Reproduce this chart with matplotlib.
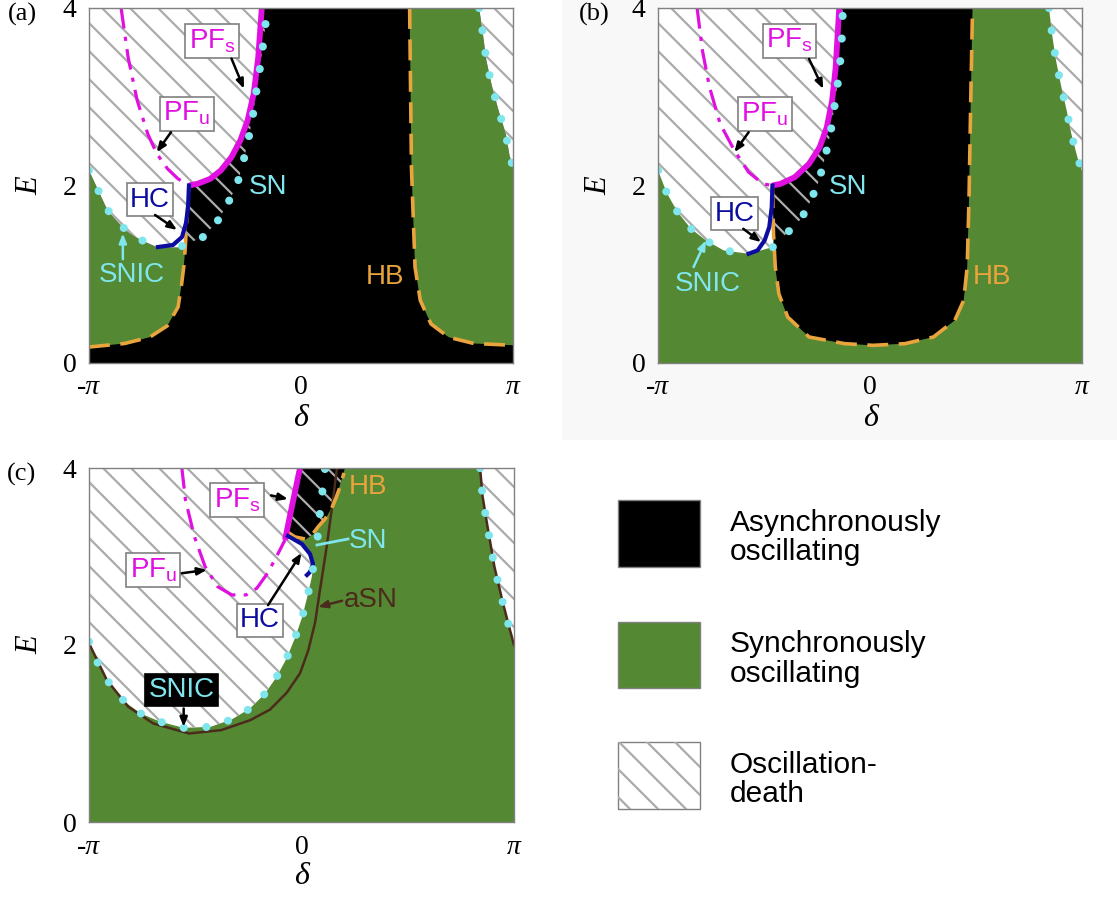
import numpy as np
import matplotlib
matplotlib.use("Agg")
import matplotlib.pyplot as plt
from matplotlib.patches import Polygon, Rectangle

PI = np.pi

# ---------------- panel (a) ----------------
a_hb_left_d = [-PI, -2.614, -2.244, -1.98, -1.822, -1.769, -1.735, -1.715, -1.69, -1.66]
a_hb_left_e = [0.18, 0.22, 0.29, 0.42, 0.63, 0.89, 1.1, 1.3, 1.65, 2.0]
a_hb_right_d = [1.61, 1.637, 1.69, 1.768, 1.927, 2.19, 2.56, PI]
a_hb_right_e = [4.0, 2.2, 1.08, 0.705, 0.44, 0.29, 0.22, 0.2]
a_pfs_d = [-1.66, -1.531, -1.346, -1.188, -1.03, -0.898, -0.792, -0.702, -0.634, -0.581]
a_pfs_e = [2.0, 2.02, 2.075, 2.17, 2.32, 2.51, 2.73, 3.03, 3.44, 4.0]
a_pfu_d = [-2.666, -2.561, -2.428, -2.27, -2.138, -1.98, -1.822, -1.66]
a_pfu_e = [4.0, 3.44, 2.96, 2.58, 2.36, 2.19, 2.075, 2.0]
a_hc_d = [-1.66, -1.674, -1.704, -1.763, -1.897, -2.119]
a_hc_e = [2.0, 1.758, 1.578, 1.42, 1.33, 1.307]
a_snic_d = [-PI, -3.062, -2.983, -2.877, -2.772, -2.666, -2.561, -2.428, -2.297, -2.138]
a_snic_e = [2.17, 2.04, 1.91, 1.737, 1.636, 1.55, 1.475, 1.41, 1.36, 1.306]
a_sn_d = [-1.763, -1.452, -1.245, -1.097, -0.948, -0.86, -0.782, -0.713, -0.66, -0.607, -0.554, -0.512, -0.50]
a_sn_e = [1.318, 1.42, 1.589, 1.78, 2.006, 2.254, 2.51, 2.79, 3.07, 3.33, 3.63, 3.91, 4.0]
a_odr_d = [2.64, 2.695, 2.747, 2.826, 2.93, 3.036, 3.09, PI]
a_odr_e = [4.0, 3.71, 3.41, 3.13, 2.84, 2.58, 2.34, 2.21]

# ---------------- panel (b) ----------------
b_hb_d = [-1.4457, -1.4299, -1.4036, -1.351, -1.2193, -0.9033, -0.3766, 0.0447,
          0.5188, 0.9401, 1.2561, 1.3878, 1.4404, 1.4667, 1.4931, 1.5194]
b_hb_e = [1.981, 1.456, 1.081, 0.78, 0.518, 0.293, 0.218, 0.199,
          0.218, 0.293, 0.48, 0.705, 1.081, 1.831, 2.957, 4.0]
b_pfs_d = [-1.4457, -1.3247, -1.114, -0.9033, -0.7453, -0.64, -0.561, -0.5083, -0.4556]
b_pfs_e = [2.0, 2.019, 2.094, 2.244, 2.431, 2.657, 2.957, 3.332, 4.0]
b_pfu_d = [-2.5623, -2.4833, -2.3779, -2.2199, -2.0093, -1.7986, -1.5879, -1.4457]
b_pfu_e = [4.0, 3.52, 3.107, 2.694, 2.394, 2.15, 2.019, 2.0]
b_hc_d = [-1.4457, -1.4563, -1.4932, -1.5616, -1.667, -1.7986]
b_hc_e = [2.0, 1.756, 1.531, 1.381, 1.268, 1.231]
b_snic_d = [-PI, -3.0099, -2.8519, -2.6518, -2.4306, -2.1673, -1.7986]
b_snic_e = [2.17, 1.914, 1.7, 1.512, 1.381, 1.268, 1.231]
b_sn_d = [-1.4405, -1.1666, -1.0191, -0.8769, -0.7558, -0.6663, -0.5873, -0.5346,
          -0.4819, -0.4398, -0.4135, -0.403]
b_sn_e = [1.306, 1.512, 1.625, 1.831, 2.056, 2.319, 2.582, 2.844, 3.126, 3.407, 3.707, 3.97]
b_odr_d = [2.6517, 2.7044, 2.7571, 2.8361, 2.9151, 2.9836, 3.0731, PI]
b_odr_e = [4.0, 3.67, 3.407, 3.107, 2.844, 2.582, 2.319, 2.169]

# ---------------- panel (c) ----------------
c_snic_d = [-PI, -3.0096, -2.8248, -2.6136, -2.376, -2.0856, -1.7424, -1.3464, -1.0296,
            -0.7656, -0.54, -0.367, -0.219, -0.096, 0.012, 0.1, 0.15, 0.174]
c_snic_e = [2.038, 1.792, 1.547, 1.358, 1.226, 1.132, 1.064, 1.075, 1.16,
            1.28, 1.45, 1.64, 1.85, 2.08, 2.32, 2.59, 2.76, 2.88]
c_asn_d = [-PI, -2.8776, -2.5608, -2.1912, -1.6632, -1.188, -0.76, -0.466, -0.219,
           -0.022, 0.10, 0.2, 0.273, 0.372, 0.45, 0.525]
c_asn_e = [2.019, 1.604, 1.302, 1.113, 1.0, 1.038, 1.15, 1.27, 1.46,
           1.68, 1.94, 2.25, 2.62, 3.11, 3.55, 4.0]
c_pfu_d = [-1.7688, -1.716, -1.584, -1.4256, -1.2408, -1.0296, -0.8184, -0.66, -0.5016, -0.3432, -0.244]
c_pfu_e = [4.0, 3.641, 3.226, 2.887, 2.66, 2.566, 2.566, 2.642, 2.811, 3.038, 3.187]
c_pfs_d = [-0.244, -0.132, -0.022]
c_pfs_e = [3.187, 3.6, 4.0]
c_hc_d = [-0.2, 0.007, 0.126, 0.17, 0.126, 0.081]
c_hc_e = [3.232, 3.141, 3.028, 2.915, 2.825, 2.791]
c_hb_d = [-0.229, -0.096, 0.052, 0.155, 0.244, 0.347, 0.436, 0.51, 0.569, 0.628]
c_hb_e = [3.288, 3.221, 3.198, 3.243, 3.334, 3.424, 3.526, 3.661, 3.786, 3.944]
c_async_d = [-0.244, -0.022, 0.643, 0.569, 0.466, 0.347, 0.2, 0.052, -0.096]
c_async_e = [3.209, 4.0, 4.0, 3.808, 3.582, 3.413, 3.266, 3.187, 3.187]
c_sn_d = [0.347, 0.303, 0.259, 0.229]
c_sn_e = [3.989, 3.695, 3.401, 3.13]
c_odr_d = [2.64, 2.677, 2.7456, 2.8512, 2.9726, 3.0624, PI]
c_odr_e = [4.0, 3.679, 3.358, 2.887, 2.491, 2.226, 2.0]

legend_labels = ["Asynchronously\noscillating", "Synchronously\noscillating", "Oscillation-\ndeath"]

# colours
GREEN = "#558832"
CYAN = "#80e6ee"
MAG = "#e010e0"
ORANGE = "#e9a43e"
BLUE = "#0c0ca0"
BROWN = "#4b2b1c"
HATCH = "#ababab"
SANS = "Liberation Sans"
SERIF = "Liberation Serif"

plt.rcParams["mathtext.default"] = "regular"
plt.rcParams["font.family"] = [SANS, "DejaVu Sans"]

W, H = 1117, 897
fig = plt.figure(figsize=(W / 100, H / 100), dpi=100)
fig.patches.append(Rectangle((562 / W, 1 - 440 / H), 1, 440 / H, transform=fig.transFigure,
                             fc="#f8f8f8", ec="none", zorder=-5))


def rev(d, e):
    return list(d)[::-1], list(e)[::-1]


def chain(*parts):
    dd, ee = [], []
    for d, e in parts:
        dd += list(d)
        ee += list(e)
    return np.column_stack([dd, ee])


def hatch_region(ax, pts, fill=None, spacing=28):
    poly = Polygon(pts, closed=True, fc=fill if fill else "none", ec="none", zorder=1)
    ax.add_patch(poly)
    bb = ax.get_position()
    w, h = bb.width * W, bb.height * H
    for c in np.arange(4, w + h, spacing):
        ln, = ax.plot([(c - h) / w, c / w], [1, 0], transform=ax.transAxes,
                      color=HATCH, lw=1.6, zorder=2, solid_capstyle="butt")
        ln.set_clip_path(poly)


def fill(ax, pts, color):
    ax.add_patch(Polygon(pts, closed=True, fc=color, ec="none", zorder=1))


def dots(ax, d, e):
    ax.plot(d, e, color=CYAN, lw=5.8, linestyle=(0, (0.01, 2.8)),
            dash_capstyle="round", zorder=6)


def curves(ax, pfs, pfu, hc, hb_list):
    for hb in hb_list:
        ax.plot(*hb, color=ORANGE, lw=2.6, linestyle=(0, (5.8, 2.9)), zorder=4)
    ax.plot(*pfu, color=MAG, lw=2.3, linestyle=(0, (6.5, 2.6, 1.3, 2.6)), zorder=5)
    ax.plot(*pfs, color=MAG, lw=4.2, solid_capstyle="butt", zorder=5)
    ax.plot(*hc, color=BLUE, lw=3.0, zorder=5)


def boxed(ax, x, y, s, color, fc="white", ec="#808080"):
    ax.text(x, y, s, color=color, fontsize=20, ha="center", va="center", zorder=10,
            bbox=dict(boxstyle="square,pad=0.12", fc=fc, ec=ec, lw=1.2))


def label(ax, x, y, s, color):
    ax.text(x, y, s, color=color, fontsize=20, ha="center", va="center", zorder=10)


def arrow(ax, tail, head, color="k"):
    ax.annotate("", xy=head, xytext=tail, zorder=10,
                arrowprops=dict(arrowstyle="-|>,head_length=0.55,head_width=0.22",
                                color=color, lw=1.8, shrinkA=0, shrinkB=0))


def setup(ax, letter, lx):
    ax.set_xlim(-PI, PI)
    ax.set_ylim(0, 4)
    ax.set_xticks([-PI, 0, PI])
    ax.set_xticklabels(["-π", "0", "π"])
    ax.set_yticks([0, 2, 4])
    ax.tick_params(length=0, pad=9, labelsize=20)
    for t in ax.get_xticklabels() + ax.get_yticklabels():
        t.set_fontfamily(SERIF)
    ax.get_xticklabels()[0].set_fontstyle("italic")
    ax.get_xticklabels()[2].set_fontstyle("italic")
    for sp in ax.spines.values():
        sp.set_color("#808080")
        sp.set_linewidth(1.0)
        sp.set_zorder(8)
    ax.text(-0.139, 0.5, "E", transform=ax.transAxes, rotation=90, fontsize=22,
            family=SERIF, style="italic", ha="center", va="center")
    ax.text(0.5, -0.155, "δ", transform=ax.transAxes, fontsize=23,
            family=SERIF, style="italic", ha="center", va="center")
    fig.text(lx[0] / W, 1 - lx[1] / H, letter, fontsize=19, family=SERIF,
             ha="center", va="center")


def px_axes(l, t, r, b):
    return fig.add_axes([l / W, 1 - b / H, (r - l) / W, (b - t) / H])


# ---------------- (a) ----------------
ax = px_axes(89, 8, 513, 363)
ax.set_facecolor("black")
hb_up = [(d, e) for d, e in zip(a_hb_left_d, a_hb_left_e) if e >= 1.3]
hb_lo = [(d, e) for d, e in zip(a_hb_left_d, a_hb_left_e) if e <= 1.3]
fill(ax, chain(zip(*hb_lo), rev(a_snic_d, a_snic_e)), GREEN)
fill(ax, chain((a_hb_right_d, a_hb_right_e), rev(a_odr_d, a_odr_e)), GREEN)
hatch_region(ax, chain(([-PI], [4.0]), rev(a_pfs_d, a_pfs_e), rev(*zip(*hb_up)),
                       rev(a_snic_d, a_snic_e)), fill="white")
hatch_region(ax, chain((a_pfs_d, a_pfs_e), rev(a_sn_d, a_sn_e)))
hatch_region(ax, chain((a_odr_d, a_odr_e), ([PI], [4.0])), fill="white")
curves(ax, (a_pfs_d, a_pfs_e), (a_pfu_d, a_pfu_e), (a_hc_d, a_hc_e),
       [(a_hb_left_d, a_hb_left_e), (a_hb_right_d, a_hb_right_e)])
dots(ax, a_snic_d, a_snic_e)
dots(ax, a_sn_d, a_sn_e)
dots(ax, a_odr_d, a_odr_e)
boxed(ax, -1.32, 3.63, "PF$_s$", MAG)
arrow(ax, (-1.03, 3.43), (-0.845, 3.09))
boxed(ax, -1.69, 2.81, "PF$_u$", MAG)
arrow(ax, (-1.927, 2.6), (-2.138, 2.375))
boxed(ax, -2.24, 1.84, "HC", BLUE)
arrow(ax, (-2.163, 1.668), (-1.837, 1.499))
label(ax, -0.49, 1.98, "SN", CYAN)
label(ax, -2.508, 0.99, "SNIC", CYAN)
arrow(ax, (-2.64, 1.17), (-2.64, 1.46), CYAN)
label(ax, 1.24, 0.97, "HB", ORANGE)
setup(ax, "(a)", (22, 14))

# ---------------- (b) ----------------
ax = px_axes(658, 8, 1082, 363)
ax.set_facecolor(GREEN)
fill(ax, chain((b_hb_d, b_hb_e), rev(b_pfs_d, b_pfs_e)), "black")
hatch_region(ax, chain(([-PI], [4.0]), rev(b_pfs_d, b_pfs_e), ([b_hb_d[1]], [b_hb_e[1]]),
                       ([b_sn_d[0]], [b_sn_e[0]]), rev(b_snic_d, b_snic_e)), fill="white")
hatch_region(ax, chain((b_pfs_d, b_pfs_e), ([-0.40], [4.0]), rev(b_sn_d, b_sn_e),
                       ([b_hb_d[1]], [b_hb_e[1]])))
hatch_region(ax, chain((b_odr_d, b_odr_e), ([PI], [4.0])), fill="white")
curves(ax, (b_pfs_d, b_pfs_e), (b_pfu_d, b_pfu_e), (b_hc_d, b_hc_e), [(b_hb_d, b_hb_e)])
dots(ax, b_snic_d, b_snic_e)
dots(ax, b_sn_d, b_sn_e)
dots(ax, b_odr_d, b_odr_e)
boxed(ax, -1.193, 3.632, "PF$_s$", MAG)
arrow(ax, (-0.9033, 3.426), (-0.6926, 3.088))
boxed(ax, -1.562, 2.807, "PF$_u$", MAG)
arrow(ax, (-1.7986, 2.6), (-2.0093, 2.375))
boxed(ax, -2.009, 1.681, "HC", BLUE)
arrow(ax, (-1.878, 1.512), (-1.614, 1.362))
label(ax, -0.324, 1.981, "SN", CYAN)
label(ax, -2.404, 0.893, "SNIC", CYAN)
arrow(ax, (-2.615, 1.081), (-2.431, 1.381), CYAN)
label(ax, 1.809, 0.968, "HB", ORANGE)
setup(ax, "(b)", (594, 14))

# ---------------- (c) ----------------
ax = px_axes(89, 468, 514, 822)
ax.set_facecolor(GREEN)
hatch_region(ax, chain(([-PI], [4.0]), rev(c_pfs_d, c_pfs_e), (c_hc_d, c_hc_e),
                       rev(c_snic_d, c_snic_e)), fill="white")
fill(ax, chain((c_async_d, c_async_e)), "black")
hatch_region(ax, chain((c_async_d, c_async_e)))
hatch_region(ax, chain((c_odr_d, c_odr_e), ([PI], [4.0])), fill="white")
ax.plot(c_asn_d, c_asn_e, color=BROWN, lw=1.8, zorder=4)
ax.plot(c_odr_d, c_odr_e, color=BROWN, lw=1.8, zorder=4)
curves(ax, (c_pfs_d, c_pfs_e), (c_pfu_d, c_pfu_e), (c_hc_d, c_hc_e), [(c_hb_d, c_hb_e)])
dots(ax, c_snic_d, c_snic_e)
dots(ax, c_sn_d, c_sn_e)
dots(ax, c_odr_d, c_odr_e)
boxed(ax, -0.95, 3.641, "PF$_s$", MAG)
arrow(ax, (-0.45, 3.69), (-0.2, 3.65))
boxed(ax, -2.191, 2.849, "PF$_u$", MAG)
arrow(ax, (-1.769, 2.811), (-1.399, 2.849))
boxed(ax, -0.614, 2.28, "HC", BLUE)
arrow(ax, (-0.495, 2.45), (0.0, 3.04))
label(ax, 0.983, 3.175, "SN", CYAN)
ax.plot([0.688, 0.229], [3.198, 3.13], color=CYAN, lw=2, zorder=6)
label(ax, 0.983, 3.786, "HB", ORANGE)
ax.text(0.62, 2.51, "aSN", color=BROWN, fontsize=20, ha="left", va="center", zorder=10)
arrow(ax, (0.60, 2.50), (0.245, 2.43), BROWN)
boxed(ax, -1.769, 1.491, "SNIC", CYAN, fc="black", ec="black")
arrow(ax, (-1.742, 1.283), (-1.742, 1.075))
setup(ax, "(c)", (22, 474))

# ---------------- legend ----------------
lax = fig.add_axes([0, 0, 1, 1])
lax.set_xlim(0, W)
lax.set_ylim(H, 0)
lax.axis("off")
boxes = [(500, 67, "black"), (622, 66, GREEN), (742, 67, "white")]
for (top, hgt, col), txt in zip(boxes, legend_labels):
    r = Rectangle((618, top), 82, hgt, fc=col, ec="#808080", lw=1.0)
    lax.add_patch(r)
    if col == "white":
        for c in np.arange(618 - hgt + 12, 700 + 5, 28):
            ln, = lax.plot([c, c + hgt], [top, top + hgt], color=HATCH, lw=1.6)
            ln.set_clip_path(r)
    lax.text(730, top + hgt / 2 + 4, txt, fontsize=21.5, ha="left", va="center",
             linespacing=1.05)

fig.savefig("out.png", dpi=100)
